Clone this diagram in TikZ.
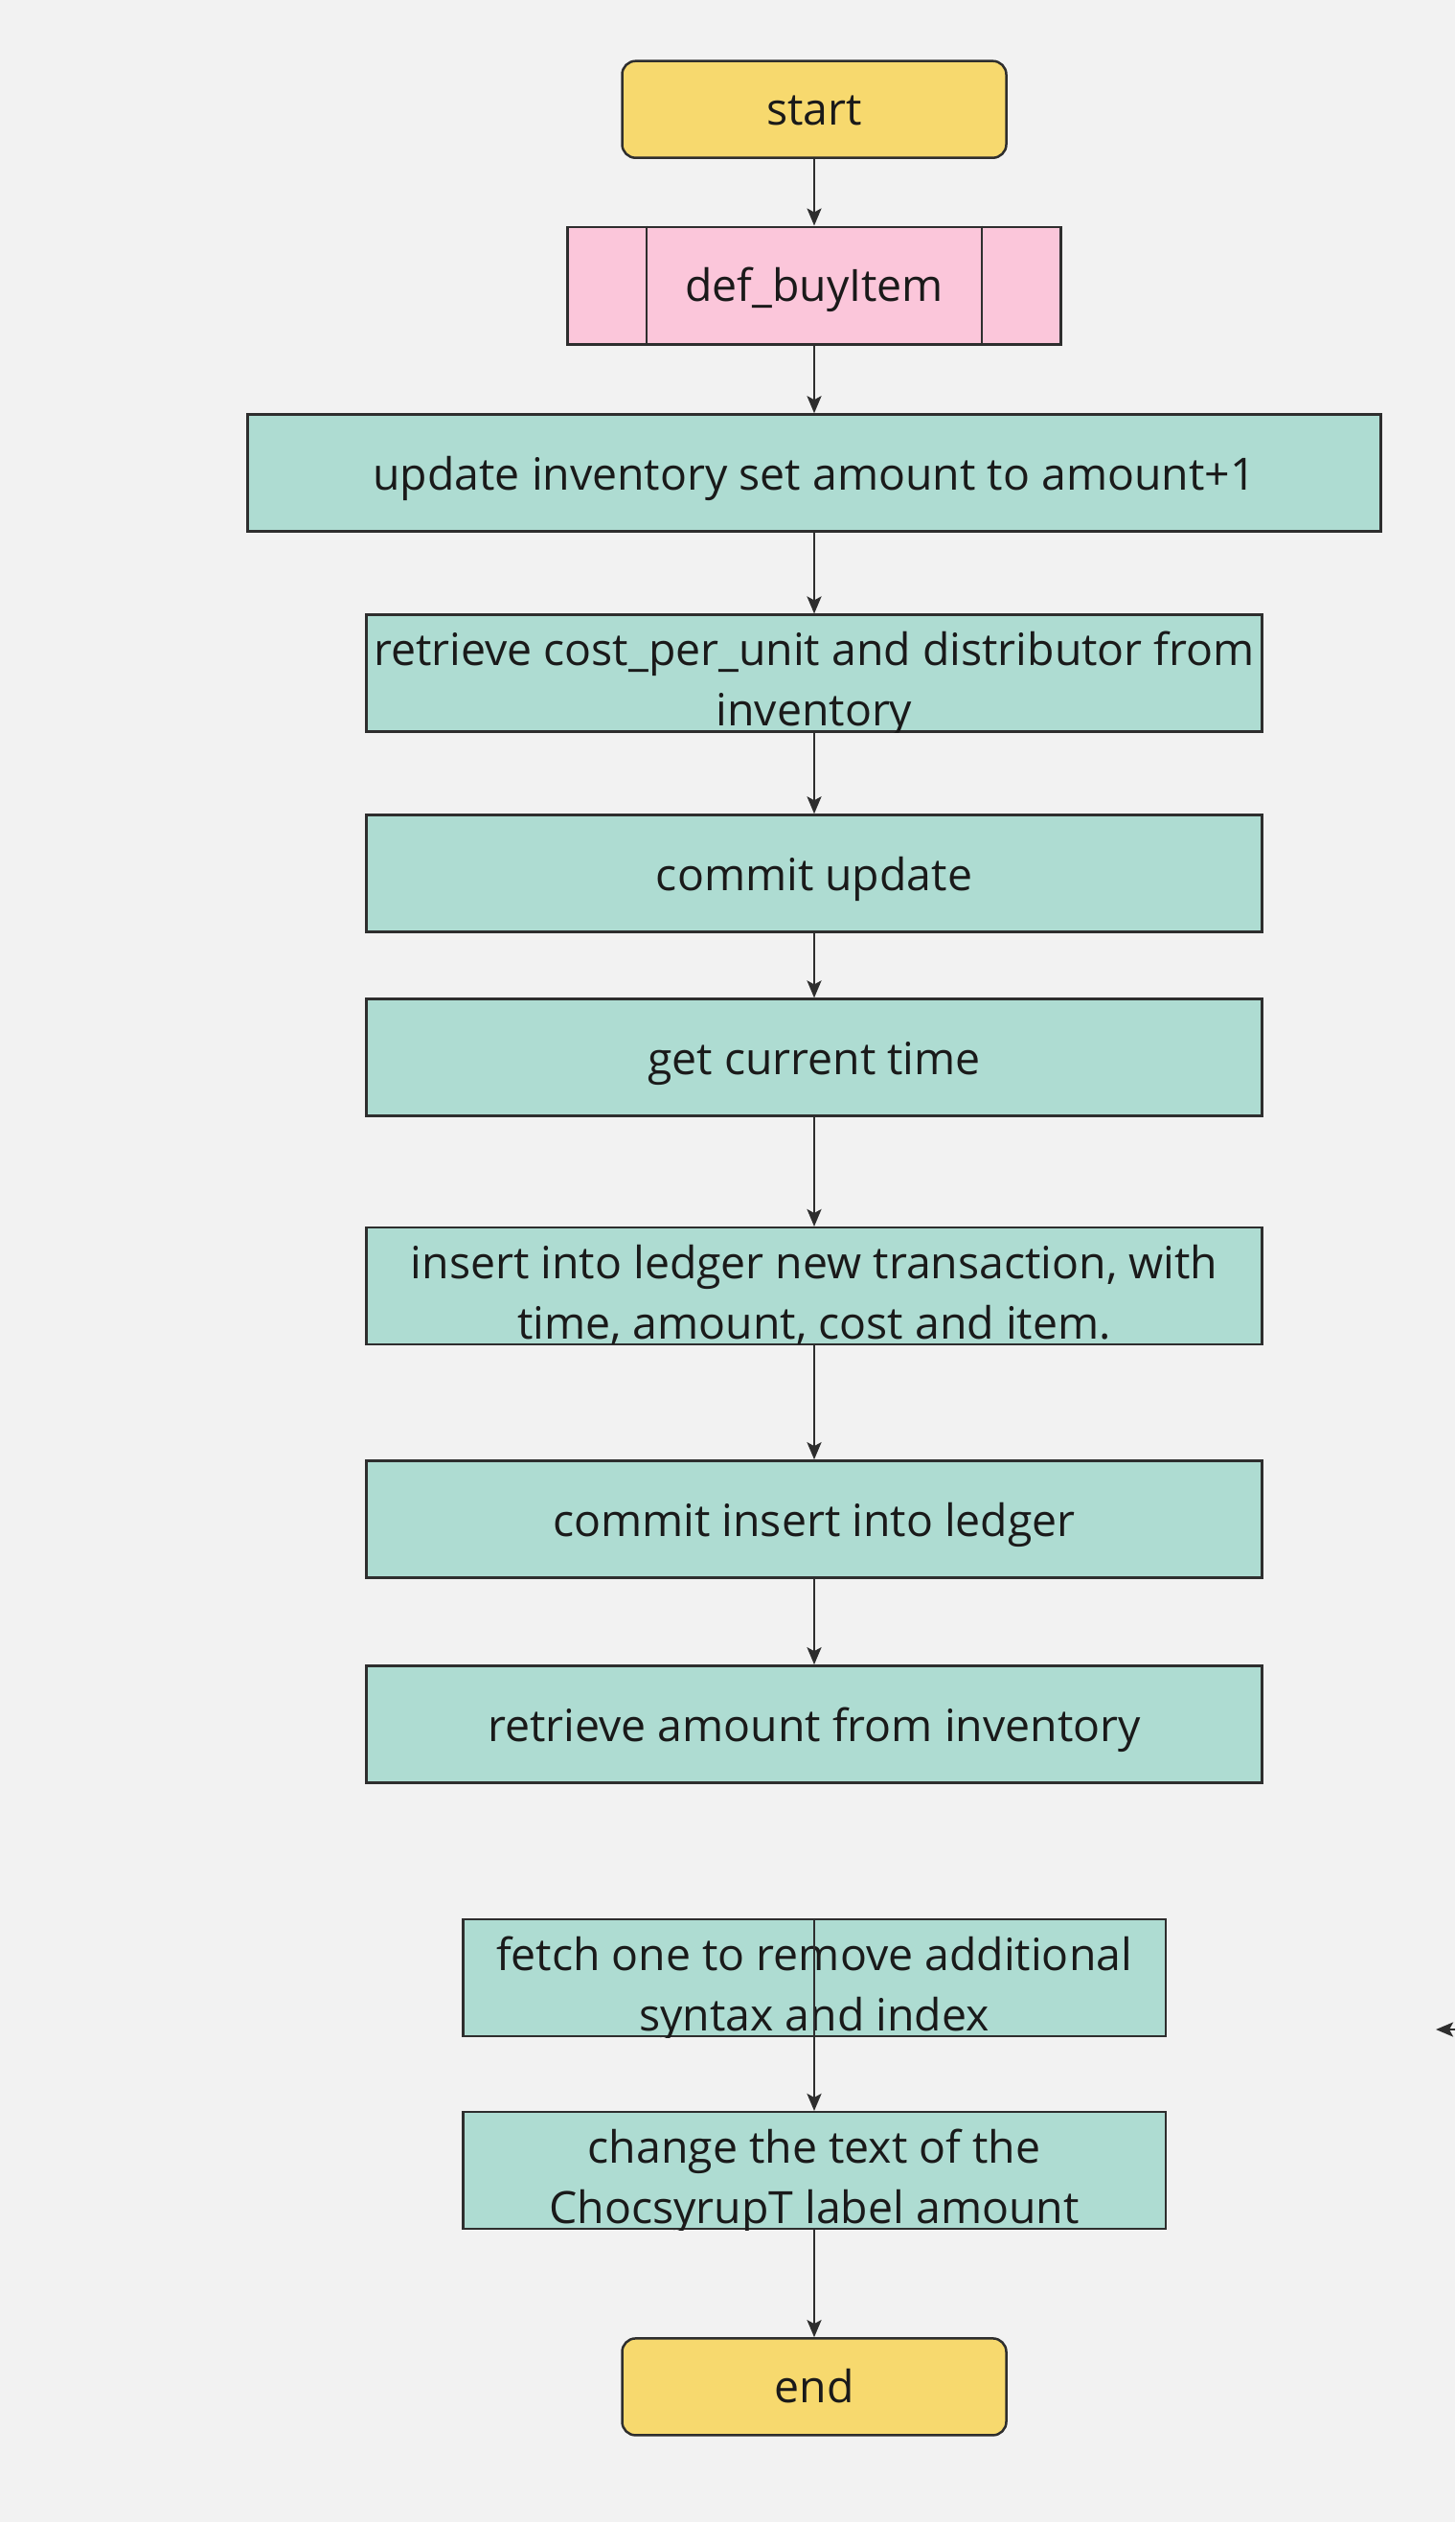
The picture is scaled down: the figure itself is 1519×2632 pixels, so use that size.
\documentclass[tikz,border=0pt]{standalone}
\usepackage{fontspec}
\setmainfont{Open Sans}
\usetikzlibrary{arrows.meta}
\definecolor{bgc}{HTML}{F2F2F2}
\definecolor{yel}{HTML}{F7D96E}
\definecolor{pnk}{HTML}{FBC6DA}
\definecolor{tealbox}{HTML}{AEDCD2}
\definecolor{edgec}{HTML}{2E2E2E}
\definecolor{txt}{HTML}{1A1A1A}
\begin{document}
\begin{tikzpicture}[x=1pt,y=-1pt,
  box/.style={draw=edgec,line width=2.5pt,fill=tealbox,inner sep=0,minimum height=122pt},
  wide/.style={box,minimum width=935pt},
  mid/.style={box,minimum width=733.5pt},
  term/.style={draw=edgec,line width=2.5pt,fill=yel,rounded corners=14pt,minimum width=401pt,minimum height=101pt,inner sep=0},
  subr/.style={draw=edgec,line width=2.5pt,fill=pnk,minimum width=515pt,minimum height=122.5pt,inner sep=0},
  lbl/.style={font=\fontsize{46.4}{63}\selectfont,anchor=base,inner sep=0,text=txt},
  flow/.style={draw=edgec,line width=2.5pt,-{Stealth[length=18pt,width=15pt,inset=4pt]}}
]
\fill[bgc] (0,0) rectangle (1519,2632);
\useasboundingbox (0,0) rectangle (1519,2632);

% nodes
\node[term] (start) at (850,114.2) {};
\node[lbl] (startT) at (850,130) {start};

\node[subr] (def) at (850,298) {};
\draw[edgec,line width=2pt] ([xshift=84pt]def.north west) -- ([xshift=84pt]def.south west);
\draw[edgec,line width=2pt] ([xshift=-84pt]def.north east) -- ([xshift=-84pt]def.south east);
\node[lbl] (defT) at (850,314) {def\_buyItem};

\node[box,minimum width=1183pt] (upd) at (850,493.5) {};
\node[lbl] (updT) at (850,511) {update inventory set amount to amount+1};

\node[wide] (ret) at (850,702.7) {};
\begin{scope}
\clip (ret.north west) rectangle (ret.south east);
\node[lbl] (retA) at (850,694.7) {retrieve cost\_per\_unit and distributor from};
\node[lbl] (retB) at (850,757.7) {inventory};
\end{scope}

\node[wide] (cupd) at (850,911.5) {};
\node[lbl] (cupdT) at (850,929) {commit update};

\node[wide] (time) at (850,1103.6) {};
\node[lbl] (timeT) at (850,1121) {get current time};

\node[wide] (ins) at (850,1342.2) {};
\begin{scope}
\clip (ins.north west) rectangle (ins.south east);
\node[lbl] (insA) at (850,1334.2) {insert into ledger new transaction, with};
\node[lbl] (insB) at (850,1397.2) {time, amount, cost and item.};
\end{scope}

\node[wide] (cins) at (850,1585.4) {};
\node[lbl] (cinsT) at (850,1603) {commit insert into ledger};

\node[wide] (ramt) at (850,1799.4) {};
\node[lbl] (ramtT) at (850,1817) {retrieve amount from inventory};

\node[mid] (fetch) at (850,2064) {};
\begin{scope}
\clip (fetch.north west) rectangle (fetch.south east);
\node[lbl] (fetchA) at (850,2056) {fetch one to remove additional};
\node[lbl] (fetchB) at (850,2119) {syntax and index};
\end{scope}

\node[mid] (chg) at (850,2265.2) {};
\begin{scope}
\clip (chg.north west) rectangle (chg.south east);
\node[lbl] (chgA) at (850,2257.2) {change the text of the};
\node[lbl] (chgB) at (850,2320.2) {ChocsyrupT label amount};
\end{scope}

\node[term] (end) at (850,2490.9) {};
\node[lbl] (endT) at (850,2507) {end};

% connectors
\draw[flow] (start) -- (def);
\draw[flow] (def) -- (upd);
\draw[flow] (upd) -- (ret);
\draw[flow] (ret) -- (cupd);
\draw[flow] (cupd) -- (time);
\draw[flow] (time) -- (ins);
\draw[flow] (ins) -- (cins);
\draw[flow] (cins) -- (ramt);
\draw[flow] (fetch.north) -- (chg.north);
\draw[flow] (chg) -- (end);

\coordinate (stubR) at (1519,2118);
\coordinate (stubL) at (1499,2118);
\draw[flow] (stubR) -- (stubL);
\end{tikzpicture}
\end{document}
